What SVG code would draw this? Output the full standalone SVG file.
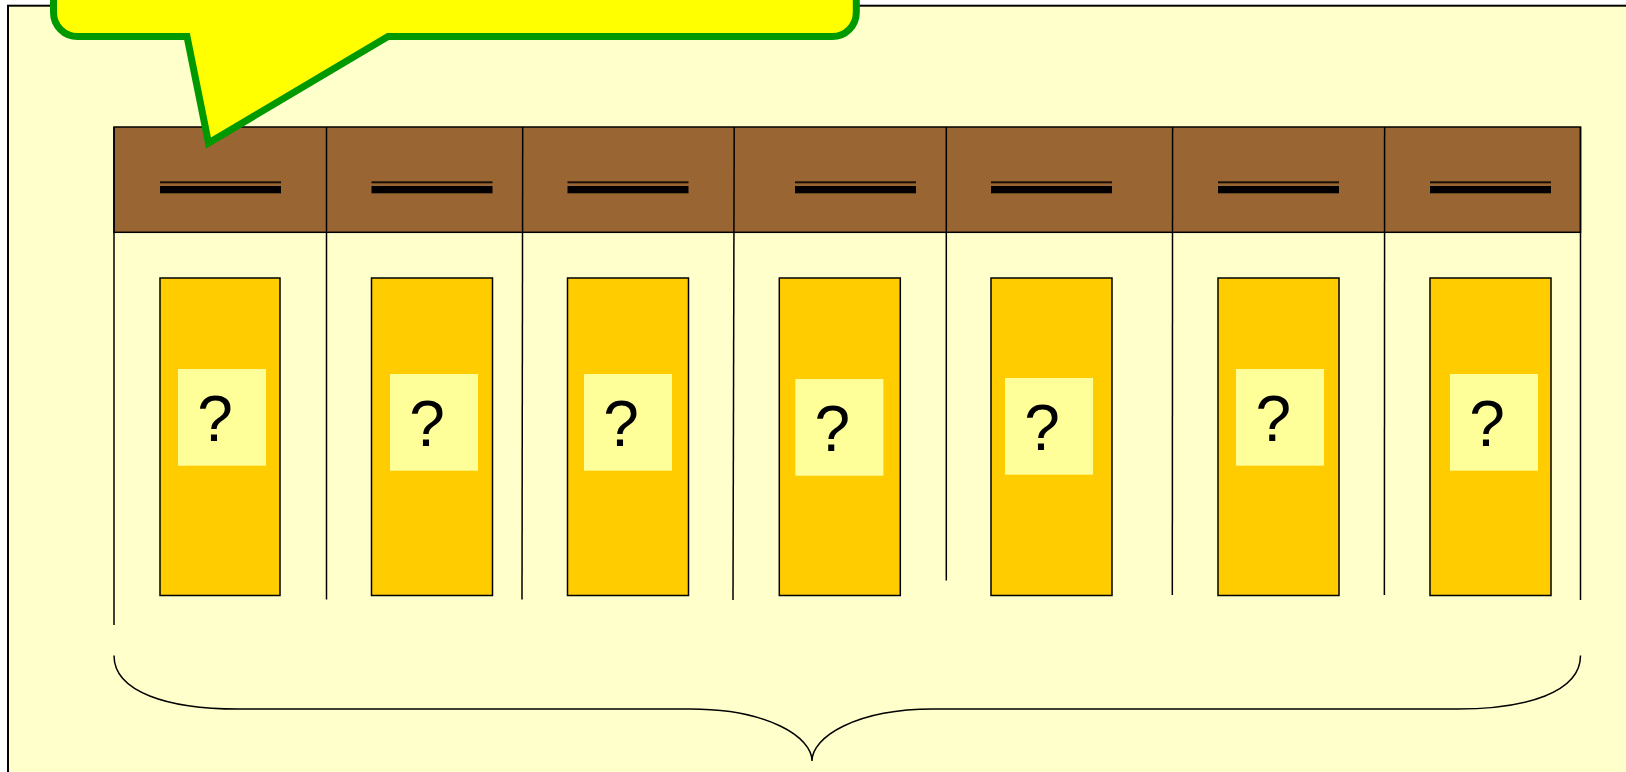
<svg xmlns="http://www.w3.org/2000/svg" width="1626" height="772" viewBox="0 0 1626 772">
<style>
.page{fill:#FFFFCC;stroke:#000;stroke-width:2}
.hdr{fill:#996633;stroke:#000;stroke-width:1.5}
.thin{fill:#1a0f05}
.thick{fill:#000}
.box{fill:#FFCC00;stroke:#000;stroke-width:1.5}
.lt{fill:#FFFF99}
.q{font-family:"Liberation Sans",Arial,sans-serif;font-size:64px;fill:#000;text-anchor:middle}
.ln{fill:none;stroke:#000;stroke-width:1.5}
.callout{fill:#FFFF00;stroke:#009900;stroke-width:7;stroke-linejoin:miter}
</style>
<rect class="page" x="8" y="5.7" width="1700" height="900"/>
<g id="header">
<rect class="hdr" x="114" y="127" width="1466.5" height="105.3"/>
</g>
<g id="connectors">
<path class="ln" d="M114,127 L114,625"/>
<path class="ln" d="M326.5,127 L326.5,599.5"/>
<path class="ln" d="M522.7,127 L522,599.5"/>
<path class="ln" d="M734.2,127 L733,600"/>
<path class="ln" d="M946.3,127 L946.3,580.5"/>
<path class="ln" d="M1172.6,127 L1172.3,595"/>
<path class="ln" d="M1384.6,127 L1384.4,595"/>
<path class="ln" d="M1580.5,127 L1580.5,600"/>
<path class="ln" d="M114,655.5 C114,692 168,709 238,709 L690,709 C768,709 812,737 812,761 C812,737 856,709 933,709 L1457,709 C1527,709 1580.5,692 1580.5,655.5"/>
</g>
<g id="col1">
<rect class="thin" x="160" y="181.3" width="121" height="2"/>
<rect class="thick" x="160" y="186" width="121" height="7.3"/>
<rect class="box" x="160" y="278" width="120" height="317.5"/>
<rect class="lt" x="178" y="369" width="88" height="96.7"/>
<text class="q" x="215" y="441">?</text>
</g>
<g id="col2">
<rect class="thin" x="371.5" y="181.3" width="121" height="2"/>
<rect class="thick" x="371.5" y="186" width="121" height="7.3"/>
<rect class="box" x="371.5" y="278" width="121" height="317.5"/>
<rect class="lt" x="390" y="374" width="88" height="96.7"/>
<text class="q" x="427" y="446">?</text>
</g>
<g id="col3">
<rect class="thin" x="567.5" y="181.3" width="121" height="2"/>
<rect class="thick" x="567.5" y="186" width="121" height="7.3"/>
<rect class="box" x="567.5" y="278" width="121" height="317.5"/>
<rect class="lt" x="584" y="374" width="88" height="96.7"/>
<text class="q" x="621" y="446">?</text>
</g>
<g id="col4">
<rect class="thin" x="795" y="181.3" width="121" height="2"/>
<rect class="thick" x="795" y="186" width="121" height="7.3"/>
<rect class="box" x="779.3" y="278" width="121" height="317.5"/>
<rect class="lt" x="795.4" y="379" width="88" height="96.7"/>
<text class="q" x="832.4" y="451">?</text>
</g>
<g id="col5">
<rect class="thin" x="991" y="181.3" width="121" height="2"/>
<rect class="thick" x="991" y="186" width="121" height="7.3"/>
<rect class="box" x="991" y="278" width="121" height="317.5"/>
<rect class="lt" x="1005" y="378" width="88" height="96.7"/>
<text class="q" x="1042" y="450">?</text>
</g>
<g id="col6">
<rect class="thin" x="1218" y="181.3" width="121" height="2"/>
<rect class="thick" x="1218" y="186" width="121" height="7.3"/>
<rect class="box" x="1218" y="278" width="121" height="317.5"/>
<rect class="lt" x="1236" y="369" width="88" height="96.7"/>
<text class="q" x="1273.3" y="441">?</text>
</g>
<g id="col7">
<rect class="thin" x="1430" y="181.3" width="121" height="2"/>
<rect class="thick" x="1430" y="186" width="121" height="7.3"/>
<rect class="box" x="1430" y="278" width="121" height="317.5"/>
<rect class="lt" x="1450" y="374" width="88" height="96.7"/>
<text class="q" x="1487" y="446">?</text>
</g>
<g id="callout">
<path class="callout" d="M53.5,-40 L53.5,12.5 A24,24 0 0 0 77.5,36.5 L187,36.5 L208.5,143 L388,36.5 L832.3,36.5 A24,24 0 0 0 856.3,12.5 L856.3,-40 Z"/>
</g>
</svg>
